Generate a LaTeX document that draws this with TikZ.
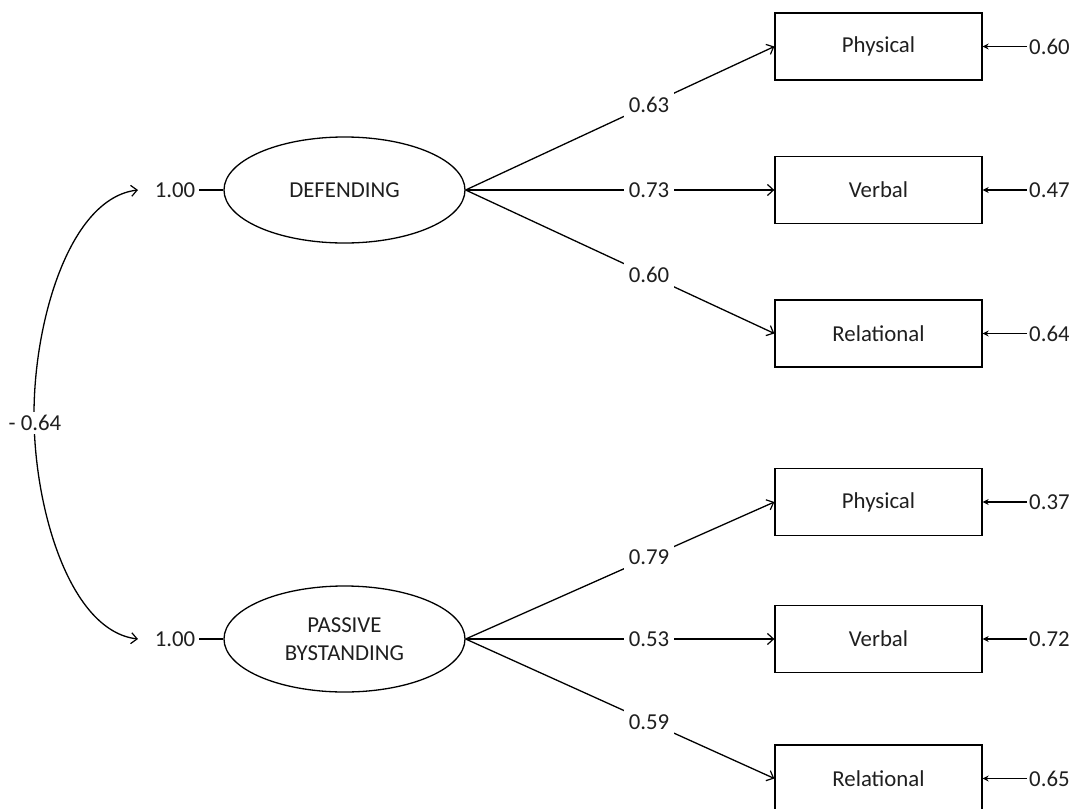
\documentclass[tikz,border=0pt]{standalone}
\usepackage{fontspec}
\setmainfont{Carlito}
\usetikzlibrary{shapes.geometric,arrows.meta}

\begin{document}
\begin{tikzpicture}[x=1pt,y=-1pt,
  every node/.style={font=\fontsize{22.8}{28}\selectfont, text=black!88},
  latent/.style={draw, ellipse, line width=1.3pt, minimum width=241pt,
    minimum height=106pt, inner sep=0pt, align=center},
  indicator/.style={draw, rectangle, line width=1.3pt, minimum width=207pt,
    minimum height=67pt, inner sep=0pt},
  barb/.tip={Straight Barb[length=6pt,width=11pt,line width=1.2pt]},
  load/.style={line width=1.3pt, -barb},
  loadlabel/.style={fill=white, inner sep=5pt},
  varlabel/.style={inner sep=4pt},
  errlabel/.style={anchor=west, inner sep=2pt},
  err/.style={line width=1.1pt, -{Stealth[length=6pt,width=6pt]}},
  plain/.style={line width=1.3pt}
]
\useasboundingbox (0,0) rectangle (1069,809);
\clip (0,0) rectangle (1069,809);

% latent factors
\node[latent] (def) at (344.5,190) {DEFENDING};
\node[latent] (pas) at (344.5,639) {PASSIVE\\BYSTANDING};

% observed indicators
\node[indicator] (p1) at (878.5,46.5)  {Physical};
\node[indicator] (v1) at (878.5,190)   {Verbal};
\node[indicator] (r1) at (878.5,333.5) {Relational};
\node[indicator] (p2) at (878.5,502)   {Physical};
\node[indicator] (v2) at (878.5,639)   {Verbal};
\node[indicator] (r2) at (878.5,778.5) {Relational};

% factor loadings
\draw[load] (def.east) -- node[loadlabel, pos=0.594] {0.63} (p1.west);
\draw[load] (def.east) -- node[loadlabel, pos=0.594] {0.73} (v1.west);
\draw[load] (def.east) -- node[loadlabel, pos=0.594] {0.60} (r1.west);
\draw[load] (pas.east) -- node[loadlabel, pos=0.594] {0.79} (p2.west);
\draw[load] (pas.east) -- node[loadlabel, pos=0.594] {0.53} (v2.west);
\draw[load] (pas.east) -- node[loadlabel, pos=0.594] {0.59} (r2.west);

% factor variances
\node[varlabel] (vd) at (175,190) {1.00};
\node[varlabel] (vp) at (175,639) {1.00};
\draw[plain] (vd.east) -- (def.west);
\draw[plain] (vp.east) -- (pas.west);

% factor covariance
\coordinate (ctop) at (138,190);
\coordinate (cmid) at (34,414.5);
\coordinate (cbot) at (138,639);
\draw[plain, barb-barb] (ctop) .. controls (70,198) and (34,320) .. (cmid)
  .. controls (34,509) and (70,631) .. (cbot);
\node[fill=white, inner sep=3pt] (cov) at (35,423) {- 0.64};

% residual variances
\node[errlabel] (e1) at (1027,46.5)  {0.60};
\node[errlabel] (e2) at (1027,190)   {0.47};
\node[errlabel] (e3) at (1027,333.5) {0.64};
\node[errlabel] (e4) at (1027,502)   {0.37};
\node[errlabel] (e5) at (1027,639)   {0.72};
\node[errlabel] (e6) at (1027,778.5) {0.65};
\draw[err] (e1.west) -- (p1.east);
\draw[err] (e2.west) -- (v1.east);
\draw[err] (e3.west) -- (r1.east);
\draw[err] (e4.west) -- (p2.east);
\draw[err] (e5.west) -- (v2.east);
\draw[err] (e6.west) -- (r2.east);
\end{tikzpicture}
\end{document}
